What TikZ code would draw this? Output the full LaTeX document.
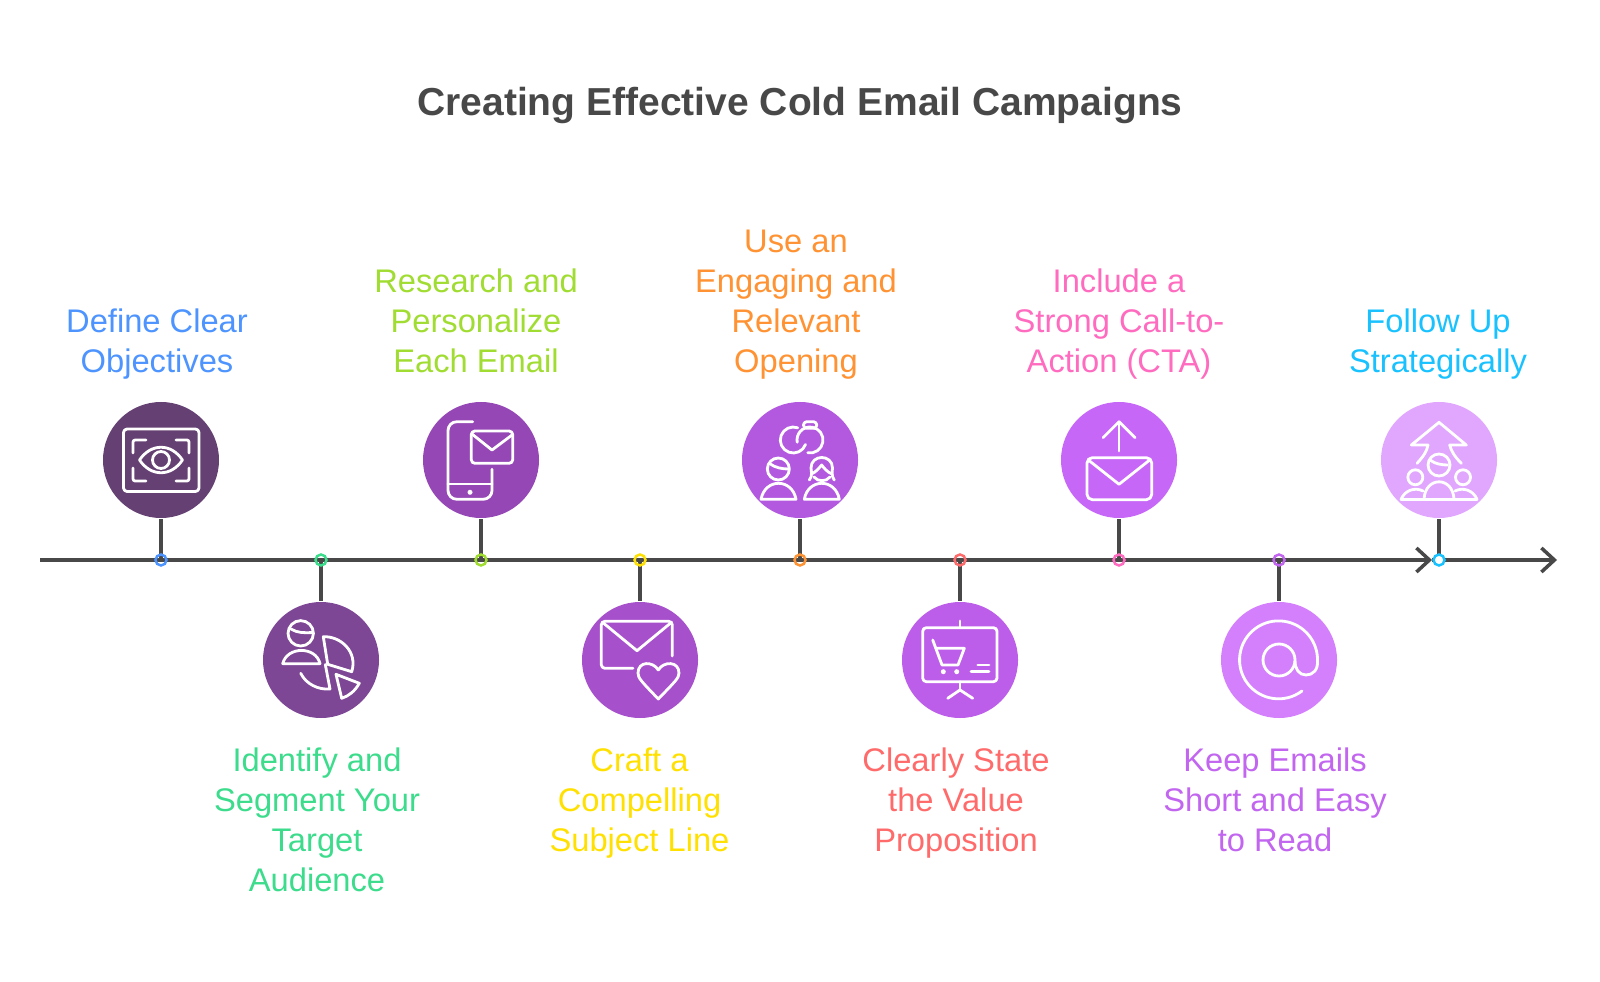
\documentclass[tikz,border=0pt]{standalone}
\usepackage{fontspec}
\setmainfont{Liberation Sans}
\usepackage{xcolor}
\usetikzlibrary{arrows.meta,backgrounds,calc}
\definecolor{axis-grey}{RGB}{72,72,72}
\definecolor{step-a}{RGB}{101,64,115}
\definecolor{step-b}{RGB}{125,71,149}
\definecolor{step-c}{RGB}{149,72,181}
\definecolor{step-d}{RGB}{167,80,204}
\definecolor{step-e}{RGB}{178,89,223}
\definecolor{step-f}{RGB}{189,94,234}
\definecolor{step-g}{RGB}{199,103,248}
\definecolor{step-h}{RGB}{212,128,252}
\definecolor{step-i}{RGB}{225,166,253}
\definecolor{text-a}{RGB}{77,148,255}
\definecolor{text-b}{RGB}{60,220,140}
\definecolor{text-c}{RGB}{160,220,50}
\definecolor{text-d}{RGB}{255,224,0}
\definecolor{text-e}{RGB}{255,146,50}
\definecolor{text-f}{RGB}{255,107,107}
\definecolor{text-g}{RGB}{255,107,191}
\definecolor{text-h}{RGB}{194,102,240}
\definecolor{text-i}{RGB}{25,194,255}
\tikzstyle{stepdisc}=[circle,minimum size=1.16cm,inner sep=0pt]
\tikzstyle{tick}=[circle,minimum size=.11cm,inner sep=0pt,line width=.7pt]
\tikzstyle{axisline}=[axis-grey,line width=.9pt]
\tikzstyle{iconline}=[white,line width=.8pt,line cap=round,line join=round]
\tikzstyle{iconscope}=[x=.01cm,y=.01cm]
\tikzstyle{uplabel}=[anchor=south,align=center,inner sep=0pt,text depth=0pt,font=\fontsize{9.3pt}{11.38pt}\selectfont]
\tikzstyle{downlabel}=[anchor=north,align=center,inner sep=0pt,font=\fontsize{9.3pt}{11.38pt}\selectfont]

\begin{document}
\begin{tikzpicture}
	\useasboundingbox (0,0) rectangle (16,9.81);
	\node[axis-grey,font=\fontsize{11.1pt}{13pt}\selectfont\bfseries] (title) at (8,8.75) {Creating Effective Cold Email Campaigns};
	% discs on the line
	\node[stepdisc,fill=step-a] (stepA) at (1.61,5.21) {};
	\node[stepdisc,fill=step-b] (stepB) at (3.21,3.21) {};
	\node[stepdisc,fill=step-c] (stepC) at (4.81,5.21) {};
	\node[stepdisc,fill=step-d] (stepD) at (6.40,3.21) {};
	\node[stepdisc,fill=step-e] (stepE) at (8.00,5.21) {};
	\node[stepdisc,fill=step-f] (stepF) at (9.60,3.21) {};
	\node[stepdisc,fill=step-g] (stepG) at (11.19,5.21) {};
	\node[stepdisc,fill=step-h] (stepH) at (12.79,3.21) {};
	\node[stepdisc,fill=step-i] (stepI) at (14.39,5.21) {};
	\node[tick,draw=text-a] (tickA) at (1.61,4.21) {};
	\node[tick,draw=text-b] (tickB) at (3.21,4.21) {};
	\node[tick,draw=text-c] (tickC) at (4.81,4.21) {};
	\node[tick,draw=text-d] (tickD) at (6.40,4.21) {};
	\node[tick,draw=text-e] (tickE) at (8.00,4.21) {};
	\node[tick,draw=text-f] (tickF) at (9.60,4.21) {};
	\node[tick,draw=text-g] (tickG) at (11.19,4.21) {};
	\node[tick,draw=text-h] (tickH) at (12.79,4.21) {};
	\node[tick,draw=text-i,fill=white] (tickI) at (14.39,4.21) {};
	\coordinate (axisStart) at (.40,4.21);
	\coordinate (axisMid) at (14.32,4.21);
	\coordinate (axisEnd) at (15.57,4.21);
	\begin{scope}[on background layer]
		\draw[axisline,-{Straight Barb[length=.13cm,width=.24cm,line width=1pt]}] (axisStart) -- (axisMid);
		\draw[axisline,-{Straight Barb[length=.13cm,width=.24cm,line width=1pt]}] (axisMid) -- (axisEnd);
		\draw[axisline] (tickA.center) -- (stepA);
		\draw[axisline] (tickB.center) -- (stepB);
		\draw[axisline] (tickC.center) -- (stepC);
		\draw[axisline] (tickD.center) -- (stepD);
		\draw[axisline] (tickE.center) -- (stepE);
		\draw[axisline] (tickF.center) -- (stepF);
		\draw[axisline] (tickG.center) -- (stepG);
		\draw[axisline] (tickH.center) -- (stepH);
		\draw[axisline] (tickI.center) -- (stepI);
	\end{scope}
	% labels
	\node[uplabel,text-a] (labelA) at (1.57,6.08) {Define Clear\\Objectives};
	\node[downlabel,text-b] (labelB) at (3.17,2.34) {Identify and\\Segment Your\\Target\\Audience};
	\node[uplabel,text-c] (labelC) at (4.76,6.08) {Research and\\Personalize\\Each Email};
	\node[downlabel,text-d] (labelD) at (6.395,2.34) {Craft a\\Compelling\\Subject Line};
	\node[uplabel,text-e] (labelE) at (7.96,6.08) {Use an\\Engaging and\\Relevant\\Opening};
	\node[downlabel,text-f] (labelF) at (9.56,2.34) {Clearly State\\the Value\\Proposition};
	\node[uplabel,text-g] (labelG) at (11.19,6.08) {Include a\\Strong Call-to-\\Action (CTA)};
	\node[downlabel,text-h] (labelH) at (12.75,2.34) {Keep Emails\\Short and Easy\\to Read};
	\node[uplabel,text-i] (labelI) at (14.38,6.08) {Follow Up\\Strategically};
	% eye in a frame
	\begin{scope}[shift={(stepA)},iconscope]
		\draw[iconline,rounded corners=1pt] (-37.5,31) rectangle (38,-31.5);
		\draw[iconline,rounded corners=.6pt] (-15,20) -- (-28,20) -- (-28,7);
		\draw[iconline,rounded corners=.6pt] (15,20) -- (28,20) -- (28,7);
		\draw[iconline,rounded corners=.6pt] (-15,-21) -- (-28,-21) -- (-28,-8);
		\draw[iconline,rounded corners=.6pt] (15,-21) -- (28,-21) -- (28,-8);
		\draw[iconline] (-21.5,0) .. controls (-10,17) and (10,17) .. (21.5,0) .. controls (10,-17) and (-10,-17) .. (-21.5,0);
		\draw[iconline] (0,0) circle (8.5);
	\end{scope}
	% person and pie
	\begin{scope}[shift={(stepB)},iconscope]
		\draw[iconline] (-20.3,26.7) circle (12.7);
		\draw[iconline] (-30,31) .. controls (-24,27) and (-16,27) .. (-8.3,27.5);
		\draw[iconline] (-38.3,-3.7) .. controls (-34,14) and (-5,14) .. (-1,-3.7) -- cycle;
		\draw[iconline] (2.3,23.3) .. controls (20,24) and (37,8) .. (30.7,-11.7) -- (6.7,-4.3) -- cycle;
		\draw[iconline] (-20.3,-13.3) .. controls (-15,-24) and (-3,-30) .. (9,-29) -- (4.3,-4.5);
		\draw[iconline] (15,-14.3) -- (38.3,-23.3) .. controls (34,-31) and (28,-36) .. (20.7,-38.3) -- cycle;
	\end{scope}
	% phone with a letter
	\begin{scope}[shift={(stepC)},iconscope]
		\draw[iconline,rounded corners=2.5pt] (-8.3,38.3) -- (-33,38.3) -- (-33,-39.3) -- (11,-39.3) -- (11,-9.3);
		\draw[iconline] (-33,-24) -- (11,-24);
		\fill[white] (-11,-32.3) circle (2.5);
		\draw[iconline,rounded corners=1pt] (-9.7,29) rectangle (31.7,-3.3);
		\draw[iconline] (-9,26) -- (11,10) -- (31,25);
	\end{scope}
	% letter with a heart
	\begin{scope}[shift={(stepD)},iconscope]
		\draw[iconline,rounded corners=1pt] (-7,-8.3) -- (-38.7,-8.3) -- (-38.7,38.7) -- (32.3,38.7) -- (32.3,4);
		\draw[iconline] (-37.5,37.7) -- (-3,9.3) -- (31.5,37.7);
		\draw[iconline] (18.3,-10) .. controls (13,-1) and (-2,-1) .. (-2,-13) .. controls (-2,-18) and (1,-21) .. (18.3,-39) .. controls (35.6,-21) and (39,-18) .. (39,-13) .. controls (39,-1) and (23.6,-1) .. (18.3,-10);
	\end{scope}
	% two people under two rings
	\begin{scope}[shift={(stepE)},iconscope]
		\draw[iconline] ($(-6.7,20)+(70:13)$) arc (70:340:13);
		\draw[iconline] ($(10,20)+(-100:13)$) arc (-100:190:13);
		\draw[iconline,rounded corners=.9pt] (3.5,38.3) rectangle (16.7,31.7);
		\draw[iconline] (-21.7,-9) circle (11);
		\draw[iconline] (-30.7,-3.3) .. controls (-25,-8) and (-17,-9) .. (-11.7,-9);
		\draw[iconline] (-39,-39.3) .. controls (-35,-18) and (-8,-18) .. (-4,-39.3) -- cycle;
		\draw[iconline] (9.3,-20) .. controls (13,-16) and (11,-10) .. (11,-8) .. controls (11,6) and (32.5,6) .. (32.5,-8) .. controls (32.5,-10) and (31,-16) .. (34.3,-20);
		\draw[iconline] (11.5,-14) .. controls (16,-12) and (19,-8) .. (21.7,-5) .. controls (24,-8) and (27,-12) .. (32,-14);
		\draw[iconline] (14,-17) .. controls (18,-22) and (26,-22) .. (30,-17);
		\draw[iconline] (4.3,-39.3) .. controls (8,-18) and (35.5,-18) .. (39.3,-39.3) -- cycle;
	\end{scope}
	% cart on a board
	\begin{scope}[shift={(stepF)},iconscope]
		\draw[iconline,rounded corners=1pt] (-37.3,32.3) rectangle (37,-21.7);
		\draw[iconline] (0,39) -- (0,32.3);
		\draw[iconline] (0,-21.7) -- (0,-30);
		\draw[iconline] (-12.3,-38.3) -- (0,-30) -- (12.7,-38.3);
		\draw[iconline] (-27.3,20) -- (-18,-5) -- (-2,-5) -- (4.3,11.7) -- (-23,11.7);
		\fill[white] (-16.7,-11.7) circle (2.5);
		\fill[white] (-3.3,-11.7) circle (2.5);
		\draw[iconline] (17.7,-5) -- (29,-5);
		\draw[iconline] (11,-11.7) -- (29,-11.7);
	\end{scope}
	% letter going up
	\begin{scope}[shift={(stepG)},iconscope]
		\draw[iconline] (0,9) -- (0,38.3);
		\draw[iconline] (-16,22.3) -- (0,38.3) -- (16,22.3);
		\draw[iconline,rounded corners=1.5pt] (-32,2.3) rectangle (32.7,-39.7);
		\draw[iconline] (-30.7,0) -- (0,-24.3) -- (30.7,0);
	\end{scope}
	% at sign
	\begin{scope}[shift={(stepH)},iconscope]
		\draw[iconline] (0,0) circle (16);
		\draw[iconline] (23,-31) arc (-53:-360:39) .. controls (39.3,-10) and (34,-15) .. (27,-15) .. controls (20,-15) and (16,-9) .. (16,-1);
	\end{scope}
	% group under an arrow
	\begin{scope}[shift={(stepI)},iconscope]
		\draw[iconline] (-22,-3.3) .. controls (-16,3) and (-12,9) .. (-11,15) -- (-27.7,15) -- (0,37.7) -- (27.3,15) -- (10.7,15) .. controls (12,9) and (16,3) .. (22.3,-3.3);
		\draw[iconline] (0,-5) circle (11);
		\draw[iconline] (-9,0) .. controls (-4,-4) and (3,-5) .. (8.5,-5);
		\draw[iconline] (-15,-39.3) .. controls (-14,-16) and (14,-16) .. (15,-39.3);
		\draw[iconline] (-23.7,-17.3) circle (7.5);
		\draw[iconline] (24,-17.3) circle (7.5);
		\draw[iconline] (-16,-31) .. controls (-24,-27) and (-34,-30) .. (-38,-39.3);
		\draw[iconline] (16,-31) .. controls (24,-27) and (34,-30) .. (38,-39.3);
		\draw[iconline] (-38,-39.3) -- (38,-39.3);
	\end{scope}
\end{tikzpicture}
\end{document}
